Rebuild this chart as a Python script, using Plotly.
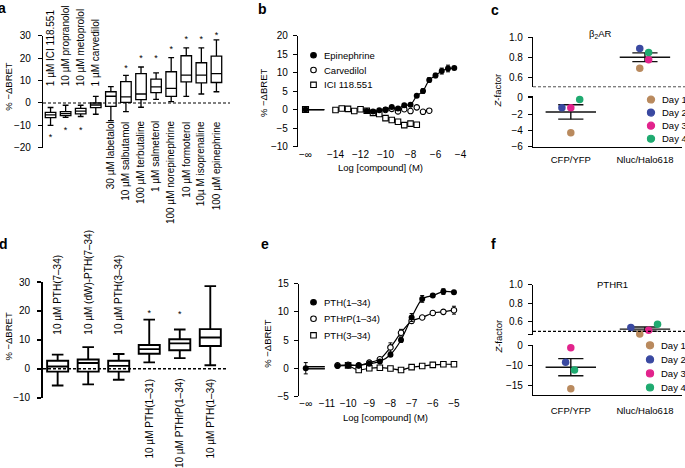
import numpy as np
import plotly.graph_objects as go

W, H = 685, 468
FONT = "Liberation Sans, Arial, Helvetica, sans-serif"

# ---------------- data: panel a ----------------
a_labels = ["1 µM ICI 118.551", "10 µM propranolol", "10 µM metoprolol", "1 µM carvedilol",
            "30 µM labetalol", "10 µM salbutamol", "100 µM terbutaline", "1 µM salmeterol",
            "100 µM norepinephrine", "10 µM formoterol", "10µ M isoprenaline", "100 µM epinephrine"]
a_upper = [-2.0, -1.0, -1.0, 2.9, 7.3, 12.3, 16.0, 13.4, 20.2, 24.5, 24.5, 28.1]
a_q3 = [-4.2, -3.8, -2.4, 0.0, 5.0, 9.5, 13.1, 10.6, 13.9, 21.0, 17.9, 20.8]
a_med = [-5.3, -4.7, -3.6, -0.9, 3.0, 2.7, 4.0, 7.2, 6.5, 12.4, 12.4, 13.1]
a_q1 = [-6.5, -5.6, -4.8, -2.1, -1.5, 0.3, 1.5, 4.6, 2.9, 9.4, 8.9, 9.1]
a_lower = [-10.0, -6.4, -6.0, -5.0, -7.8, -3.8, -1.9, 1.6, 0.6, 2.9, 4.0, 5.0]
a_star = [-14.5, -11.5, -11.5, None, None, 16.3, 20.6, 20.6, 24.6, 29.0, 29.0, 30.8]

# ---------------- data: panel b ----------------
epi_x = [-11.5, -11, -10.5, -10, -9.5, -9, -8.5, -8, -7.5, -7, -6.5, -6, -5.5, -5, -4.5]
epi_y = [-0.4, -0.5, -0.2, 0.0, 0.7, 0.3, 1.2, 1.3, 3.7, 5.0, 8.0, 9.2, 10.4, 11.1, 11.2]
epi_err = [0, 0, 0, 0, 0, 0, 0, 0, 0.3, 0.6, 0.6, 0.6, 0.8, 0.9, 0.4]
carv_x = [-10, -9.5, -9, -8.5, -8, -7.5, -7, -6.5]
carv_y = [-0.1, 0.2, -0.5, 0.1, -0.4, 0.6, -0.6, -0.3]
ici_x = [-14, -13.5, -13, -12.5, -12, -11.5, -11, -10.5, -10, -9.5, -9, -8.5, -8, -7.5]
ici_y = [-0.1, 0.3, 0.2, -0.4, 0.1, -0.3, -0.9, -1.2, -2.3, -2.8, -3.3, -4.2, -3.8, -4.1]
b_ninf = {"Epinephrine": 0.0, "Carvedilol": 0.0, "ICI 118.551": 0.0}
b_ticks = [-14, -12, -10, -8, -6, -4]

# ---------------- data: panel c / f ----------------
days = ["Day 1", "Day 2", "Day 3", "Day 4"]
day_colors = ["#b98a5e", "#3a49a1", "#e2238c", "#1faa70"]
groups = ["CFP/YFP", "Nluc/Halo618"]
c_cfp = [-4.3, -1.2, -1.2, -0.2]
c_nluc = [0.69, 0.89, 0.775, 0.85]
f_cfp = [-15.8, -9.2, -5.6, -11.1]
f_nluc = [0.47, 0.54, 0.51, 0.575]

# ---------------- data: panel d ----------------
d_labels = ["10 µM PTH(7–34)", "10 µM (dW)-PTH(7–34)", "10 µM PTH(3–34)",
            "10 µM PTH(1–31)", "10 µM PTHrP(1–34)", "10 µM PTH(1–34)"]
d_upper = [4.9, 7.5, 5.1, 17.0, 13.6, 28.6]
d_q3 = [2.8, 3.2, 2.8, 8.2, 10.2, 13.7]
d_med = [0.8, 2.0, 1.0, 6.8, 8.8, 10.8]
d_q1 = [-1.0, -1.0, -1.0, 5.2, 6.4, 7.9]
d_lower = [-5.8, -5.4, -3.8, 2.2, 3.7, 1.2]
d_star = [None, None, None, 20.1, 20.0, 31.4]

# ---------------- data: panel e ----------------
pth134_x = [-10.5, -10, -9.5, -9, -8.5, -8, -7.5, -7, -6.5, -6, -5.5, -5]
pth134_y = [0.4, 0.5, 0.5, 0.8, 1.2, 2.4, 5.0, 9.0, 12.3, 12.9, 13.6, 13.5]
pth134_err = [0, 0, 0, 0, 0, 0.3, 0.4, 0.7, 0.6, 0.3, 0.5, 0.3]
pthrp_x = [-10.5, -10, -9.5, -9, -8.5, -8, -7.5, -7, -6.5, -6, -5.5, -5]
pthrp_y = [0.5, 0.6, 0.5, 1.0, 1.6, 3.7, 6.3, 8.4, 9.0, 9.8, 10.0, 10.3]
pthrp_err = [0, 0, 0, 0, 0.3, 0.8, 0.6, 0.4, 0.3, 0.4, 0.3, 0.7]
pth334_x = [-10, -9.5, -9, -8.5, -8, -7.5, -7, -6.5, -6, -5.5, -5]
pth334_y = [0.5, -0.3, 0.0, 0.1, -0.05, -0.3, 0.2, 0.4, 0.6, 0.7, 0.7]
e_ninf = {"PTH(1–34)": (0.0, 1.0), "PTHrP(1–34)": (0.3, 0.0), "PTH(3–34)": (-0.1, 0.0)}
e_ticks = [-11, -10, -9, -8, -7, -6, -5]

# ---------------- layout helpers ----------------
def X(px):
    return px / W


def Y(py):
    return 1 - py / H


def dom_y(top_px, bottom_px):
    return [Y(bottom_px), Y(top_px)]


TXT = dict(family=FONT, size=10, color="black")
TXT9 = dict(family=FONT, size=9.5, color="black")

yax = dict(showline=True, linecolor="black", linewidth=1.2, ticks="outside", ticklen=4,
           tickwidth=1.2, tickcolor="black", showgrid=False, zeroline=False,
           tickfont=TXT, ticklabelstandoff=3)
hidden_x = dict(visible=False, showgrid=False, zeroline=False)

fig = go.Figure()
shapes = []
ann = []

# ================= panel a =================
na = len(a_labels)
ia = list(range(na))
fig.add_trace(go.Box(x=ia, q1=a_q1, median=a_med, q3=a_q3, lowerfence=a_lower, upperfence=a_upper,
                     width=0.7, whiskerwidth=0.55, fillcolor="white", boxpoints=False,
                     line=dict(color="black", width=1.3), xaxis="x", yaxis="y", hoverinfo="skip"))
sx = [i for i in ia if a_star[i] is not None]
fig.add_trace(go.Scatter(x=sx, y=[a_star[i] - 1.0 for i in sx], mode="text", text=["*"] * len(sx),
                         textfont=dict(family=FONT, size=9, color="black"), xaxis="x", yaxis="y",
                         cliponaxis=False))
shapes.append(dict(type="line", xref="x domain", yref="y", x0=0, x1=1, y0=0, y1=0,
                   line=dict(color="black", width=1.2, dash="3px,2px")))
for i, lab in enumerate(a_labels):
    if i < 4:
        ann.append(dict(x=i, y=6.6, xref="x", yref="y", text=lab, textangle=-90, showarrow=False,
                        xanchor="center", yanchor="bottom", font=TXT))
    else:
        ann.append(dict(x=i, y=-7.3, xref="x", yref="y", text=lab, textangle=-90, showarrow=False,
                        xanchor="center", yanchor="top", font=TXT))

# ================= panel b =================
NINF_B = -16.4
def ninf_seg(xn, v, length):
    return [xn, xn + length], [v, v]

for name, v in b_ninf.items():
    sxs, sys_ = ninf_seg(NINF_B, v, 1.5)
    fig.add_trace(go.Scatter(x=sxs, y=sys_, mode="lines", line=dict(color="black", width=1.2),
                             xaxis="x2", yaxis="y2"))
fig.add_trace(go.Scatter(x=ici_x, y=ici_y, mode="lines", line=dict(color="black", width=1.2,
                         shape="spline", smoothing=0.8), xaxis="x2", yaxis="y2"))
fig.add_trace(go.Scatter(x=epi_x, y=epi_y, mode="lines", line=dict(color="black", width=1.2,
                         shape="spline", smoothing=0.8), xaxis="x2", yaxis="y2"))
fig.add_trace(go.Scatter(x=[NINF_B], y=[b_ninf["ICI 118.551"]], mode="markers",
                         marker=dict(symbol="square", size=6, color="white", line=dict(color="black", width=1.1)),
                         xaxis="x2", yaxis="y2", cliponaxis=False))
fig.add_trace(go.Scatter(x=ici_x, y=ici_y, mode="markers",
                         marker=dict(symbol="square", size=5.5, color="white", line=dict(color="black", width=1.1)),
                         xaxis="x2", yaxis="y2"))
fig.add_trace(go.Scatter(x=carv_x, y=carv_y, mode="markers",
                         marker=dict(symbol="circle", size=5.5, color="white", line=dict(color="black", width=1.1)),
                         xaxis="x2", yaxis="y2"))
fig.add_trace(go.Scatter(x=[NINF_B] + epi_x, y=[b_ninf["Epinephrine"]] + epi_y, mode="markers",
                         marker=dict(symbol="circle", size=6, color="black"),
                         error_y=dict(type="data", array=[0] + epi_err, color="black", thickness=1, width=2),
                         xaxis="x2", yaxis="y2", cliponaxis=False))
# legend b
def leg_marker(kind, cx, cy, r, color="black"):
    if kind == "rect":
        return dict(type="rect", xref="paper", yref="paper", x0=X(cx - r), x1=X(cx + r),
                    y0=Y(cy + r), y1=Y(cy - r), line=dict(color="black", width=1.1), fillcolor="white")
    fill = color if kind == "filled" else "white"
    lc = color if kind == "filled" else "black"
    return dict(type="circle", xref="paper", yref="paper", x0=X(cx - r), x1=X(cx + r),
                y0=Y(cy + r), y1=Y(cy - r), line=dict(color=lc, width=1.1), fillcolor=fill)

b_leg = list(b_ninf.keys())
b_kinds = ["filled", "open", "rect"]
for k, (nm, kind) in enumerate(zip(b_leg, b_kinds)):
    cy = 50.5 + 15.2 * k
    shapes.append(leg_marker(kind, 313.5, cy, 2.8))
    ann.append(dict(x=X(321.5), y=Y(cy), xref="paper", yref="paper", text=nm, showarrow=False,
                    xanchor="left", yanchor="middle", font=TXT9))
ann.append(dict(x=X(380.5), y=Y(166), xref="paper", yref="paper", text="Log [compound] (M)",
                showarrow=False, xanchor="center", yanchor="middle", font=TXT9))

# ================= panel c and f (broken axes) =================
def zpanel(xa, ya_up, ya_lo, up_vals, lo_vals, up_off, lo_off):
    for vals, offs, center, ya in [(lo_vals, lo_off, 0, ya_lo), (up_vals, up_off, 1, ya_up)]:
        m = float(np.mean(vals))
        s = float(np.std(vals, ddof=1) / np.sqrt(len(vals)))
        lx = [center - 0.34, center + 0.34, None, center - 0.17, center + 0.17, None,
              center - 0.17, center + 0.17, None, center, center]
        ly = [m, m, None, m + s, m + s, None, m - s, m - s, None, m - s, m + s]
        fig.add_trace(go.Scatter(x=lx, y=ly, mode="lines", line=dict(color="#111111", width=1.4),
                                 xaxis=xa, yaxis=ya))
        fig.add_trace(go.Scatter(x=[center + o for o in offs], y=vals, mode="markers",
                                 marker=dict(size=7.5, color=day_colors), xaxis=xa, yaxis=ya,
                                 cliponaxis=False))

zpanel("x3", "y3", "y4", c_nluc, c_cfp, [-0.07, -0.07, 0.05, 0.05], [0, -0.12, 0, 0.12])
zpanel("x6", "y7", "y8", f_nluc, f_cfp, [-0.07, -0.19, 0.05, 0.17], [0, -0.07, 0, 0.05])
shapes.append(dict(type="line", xref="paper", yref="y3", x0=X(533), x1=1, y0=0.5, y1=0.5,
                   line=dict(color="black", width=1.2, dash="3px,2px")))
shapes.append(dict(type="line", xref="paper", yref="y7", x0=X(533), x1=1, y0=0.5, y1=0.5,
                   line=dict(color="black", width=1.2, dash="3px,2px")))
for k, (d, col) in enumerate(zip(days, day_colors)):
    cy = 96 + 13.4 * k
    shapes.append(leg_marker("filled", 651, cy, 3.6, col))
    ann.append(dict(x=X(659.5), y=Y(cy), xref="paper", yref="paper", text=d, showarrow=False,
                    xanchor="left", yanchor="middle", font=TXT9))
    cy = 348.3 + 14.4 * k
    shapes.append(leg_marker("filled", 650, cy, 3.6, col))
    ann.append(dict(x=X(658.5), y=Y(cy), xref="paper", yref="paper", text=d, showarrow=False,
                    xanchor="left", yanchor="middle", font=TXT9))
ann.append(dict(x=X(600), y=Y(28.5), xref="paper", yref="paper", text="β<sub>2</sub>AR", showarrow=False,
                xanchor="center", yanchor="middle", font=TXT9))
ann.append(dict(x=X(612), y=Y(286), xref="paper", yref="paper", text="PTHR1", showarrow=False,
                xanchor="center", yanchor="middle", font=TXT9))

# ================= panel d =================
nd = len(d_labels)
idd = list(range(nd))
fig.add_trace(go.Box(x=idd, q1=d_q1, median=d_med, q3=d_q3, lowerfence=d_lower, upperfence=d_upper,
                     width=0.69, whiskerwidth=0.55, fillcolor="white", boxpoints=False,
                     line=dict(color="black", width=1.9), xaxis="x4", yaxis="y5", hoverinfo="skip"))
sx = [i for i in idd if d_star[i] is not None]
fig.add_trace(go.Scatter(x=sx, y=[d_star[i] - 1.2 for i in sx], mode="text", text=["*"] * len(sx),
                         textfont=dict(family=FONT, size=9, color="black"), xaxis="x4", yaxis="y5",
                         cliponaxis=False))
shapes.append(dict(type="line", xref="x4 domain", yref="y5", x0=0, x1=1, y0=0, y1=0,
                   line=dict(color="black", width=1.5, dash="3px,2px")))
for i, lab in enumerate(d_labels):
    if i < 3:
        ann.append(dict(x=i, y=11.0, xref="x4", yref="y5", text=lab, textangle=-90, showarrow=False,
                        xanchor="center", yanchor="bottom", font=TXT))
    else:
        ann.append(dict(x=i, y=-2.6, xref="x4", yref="y5", text=lab, textangle=-90, showarrow=False,
                        xanchor="center", yanchor="top", font=TXT))

# ================= panel e =================
NINF_E = -12.0
for name, (v, err) in e_ninf.items():
    sxs, sys_ = ninf_seg(NINF_E, v, 0.9)
    fig.add_trace(go.Scatter(x=sxs, y=sys_, mode="lines", line=dict(color="black", width=1.2),
                             xaxis="x5", yaxis="y6"))
for xs, ys in [(pth334_x, pth334_y), (pthrp_x, pthrp_y), (pth134_x, pth134_y)]:
    fig.add_trace(go.Scatter(x=xs, y=ys, mode="lines", line=dict(color="black", width=1.2,
                             shape="spline", smoothing=0.8), xaxis="x5", yaxis="y6"))
fig.add_trace(go.Scatter(x=pth334_x, y=pth334_y, mode="markers",
                         marker=dict(symbol="square", size=5.5, color="white", line=dict(color="black", width=1.1)),
                         xaxis="x5", yaxis="y6"))
fig.add_trace(go.Scatter(x=pthrp_x, y=pthrp_y, mode="markers",
                         marker=dict(symbol="circle", size=5.5, color="white", line=dict(color="black", width=1.1)),
                         error_y=dict(type="data", array=pthrp_err, color="black", thickness=1, width=2),
                         xaxis="x5", yaxis="y6"))
fig.add_trace(go.Scatter(x=[NINF_E] + pth134_x, y=[e_ninf["PTH(1–34)"][0]] + pth134_y, mode="markers",
                         marker=dict(symbol="circle", size=6, color="black"),
                         error_y=dict(type="data", array=[e_ninf["PTH(1–34)"][1]] + pth134_err,
                                      color="black", thickness=1, width=2),
                         xaxis="x5", yaxis="y6", cliponaxis=False))
e_leg = list(e_ninf.keys())
for k, (nm, kind) in enumerate(zip(e_leg, b_kinds)):
    cy = 304 + 17 * k
    shapes.append(leg_marker(kind, 313.5, cy, 2.8))
    ann.append(dict(x=X(321.5), y=Y(cy), xref="paper", yref="paper", text=nm, showarrow=False,
                    xanchor="left", yanchor="middle", font=TXT9))
ann.append(dict(x=X(385), y=Y(422), xref="paper", yref="paper", text="Log [compound] (M)",
                showarrow=False, xanchor="center", yanchor="middle", font=TXT9))

# ================= axis titles and panel letters =================
for (px, py, t) in [(8.3, 82.5, "% −ΔBRET"), (263.3, 89, "% −ΔBRET"), (8.3, 339, "% −ΔBRET"),
                    (266.7, 346, "% −ΔBRET"), (497.7, 87, "<i>Z</i>-factor"), (498.3, 339, "<i>Z</i>-factor")]:
    ann.append(dict(x=X(px), y=Y(py), xref="paper", yref="paper", text=t, textangle=-90,
                    showarrow=False, xanchor="center", yanchor="middle", font=TXT9))
for (px, py, t) in [(2, 2, "a"), (262.5, 3, "b"), (494.5, 4, "c"), (3, 244, "d"), (264.5, 244, "e"), (493.5, 244, "f")]:
    ann.append(dict(x=X(px), y=Y(py), xref="paper", yref="paper", text="<b>%s</b>" % t,
                    showarrow=False, xanchor="center", yanchor="middle",
                    font=dict(family=FONT, size=14, color="black")))

# ================= axes =================
lay = dict(
    xaxis=dict(hidden_x, domain=[X(43), X(230)], range=[-0.5, na - 0.1], anchor="y"),
    yaxis=dict(yax, domain=dom_y(30.3, 145.7), range=[-20, 30], tickvals=[-20, -10, 0, 10, 20, 30],
               anchor="x", ticklabelstandoff=5),
    xaxis2=dict(domain=[X(298), X(468)], range=[-17.0, -3.4], anchor="y2", showline=False, ticks="",
                showgrid=False, zeroline=False, tickvals=[NINF_B] + b_ticks,
                ticktext=["−∞"] + ["−%d" % abs(t) for t in b_ticks], tickfont=TXT),
    yaxis2=dict(yax, domain=dom_y(30.3, 144.3), range=[-10, 20], tickvals=[-10, -5, 0, 5, 10, 15, 20],
                anchor="x2"),
    xaxis3=dict(domain=[X(533), X(682)], range=[-0.51, 1.5], anchor="y4", showline=True,
                linecolor="black", linewidth=1.2, showgrid=False, zeroline=False, ticks="outside",
                ticklen=4, tickcolor="rgba(0,0,0,0)", tickvals=[0, 1], ticktext=groups, tickfont=TXT9),
    yaxis3=dict(yax, domain=dom_y(32.3, 83.3), range=[0.5, 1.0], tickvals=[0.6, 0.8, 1.0],
                ticktext=["0.6", "0.8", "1.0"], anchor="x3"),
    yaxis4=dict(yax, domain=dom_y(92.7, 144.3), range=[-6, 0.2], tickvals=[-6, -4, -2, 0, 0.2],
                ticktext=["−6", "−4", "−2", "0", " "], anchor="x3"),
    xaxis4=dict(hidden_x, domain=[X(43), X(228)], range=[-0.48, 5.58], anchor="y5"),
    yaxis5=dict(yax, domain=dom_y(283.3, 402), range=[-10, 30], tickvals=[-10, 0, 10, 20, 30],
                anchor="x4", linewidth=1.8, tickwidth=1.6, ticklabelstandoff=5),
    xaxis5=dict(domain=[X(299), X(462)], range=[-12.32, -4.62], anchor="y6", showline=False, ticks="",
                showgrid=False, zeroline=False, tickvals=[NINF_E] + e_ticks,
                ticktext=["−∞"] + ["−%d" % abs(t) for t in e_ticks], tickfont=TXT),
    yaxis6=dict(yax, domain=dom_y(285, 400.7), range=[-5, 15], tickvals=[-5, 0, 5, 10, 15], anchor="x5"),
    xaxis6=dict(domain=[X(533), X(682)], range=[-0.51, 1.5], anchor="y8", showline=True,
                linecolor="black", linewidth=1.2, showgrid=False, zeroline=False, ticks="outside",
                ticklen=6, tickcolor="rgba(0,0,0,0)", tickvals=[0, 1], ticktext=groups, tickfont=TXT9),
    yaxis7=dict(yax, domain=dom_y(286, 337.3), range=[0.464, 1.0], tickvals=[0.464, 0.6, 0.8, 1.0],
                ticktext=[" ", "0.6", "0.8", "1.0"], anchor="x6"),
    yaxis8=dict(yax, domain=dom_y(348.3, 399.3), range=[-17.35, -5], tickvals=[-15, -10, -5],
                ticktext=["−15", "−10", "0"], anchor="x6"),
)

fig.update_layout(**lay)
fig.update_layout(width=W, height=H, margin=dict(l=0, r=0, t=0, b=0), paper_bgcolor="white",
                  plot_bgcolor="white", showlegend=False, font=dict(family=FONT, size=10, color="black"),
                  shapes=shapes, annotations=ann)
fig.write_html("out.html", config={"displayModeBar": False},
               post_script="document.body.style.margin='0';document.body.style.overflow='hidden';")
